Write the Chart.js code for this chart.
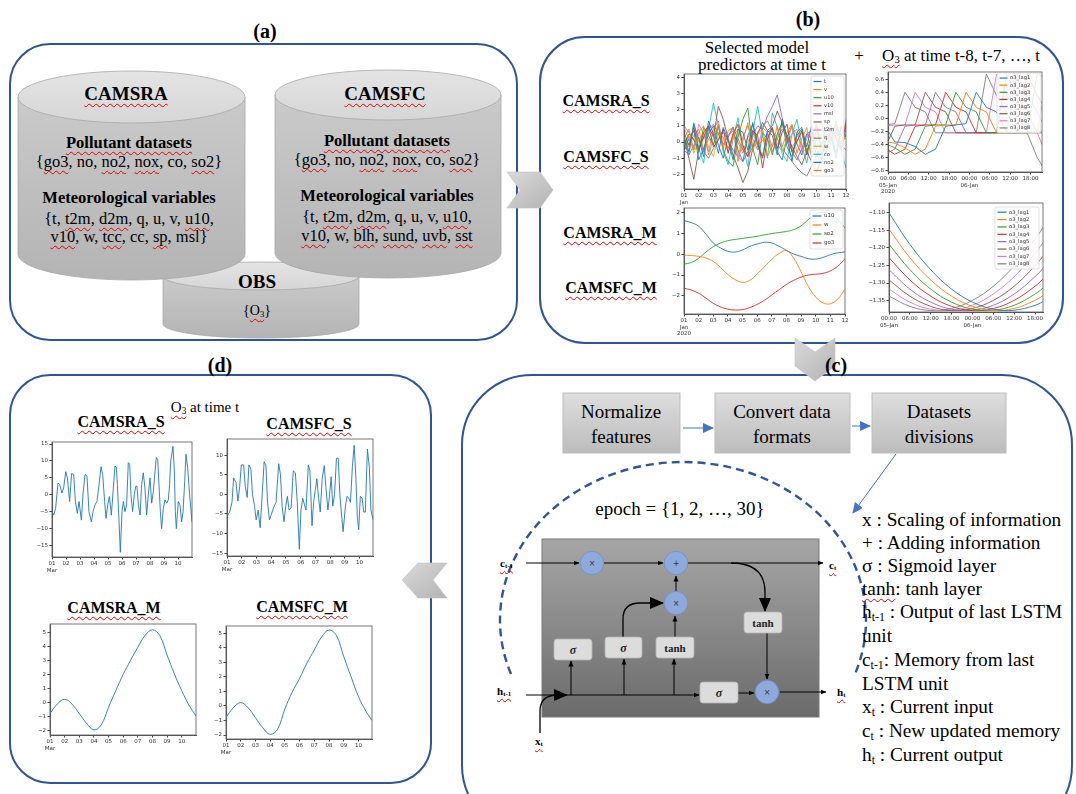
<!DOCTYPE html>
<html><head><meta charset="utf-8">
<script src="https://cdn.jsdelivr.net/npm/chart.js@4.4.1/dist/chart.umd.min.js"></script>
<style>
html,body{margin:0;padding:0;background:#fff;}
#root{position:relative;width:1076px;height:794px;overflow:hidden;font-family:'Liberation Serif','Times New Roman',serif;color:#000;}
.t{position:absolute;transform:translate(-50%,-50%);white-space:nowrap;line-height:1;}
.l{position:absolute;transform:translate(0,-50%);white-space:nowrap;line-height:1;}
.w{text-decoration:underline wavy #e00000;text-decoration-thickness:1px;text-underline-offset:3px;text-decoration-skip-ink:none;}
.b{font-weight:bold;}
sub{font-size:0.62em;vertical-align:-0.25em;line-height:0;}
.cw{position:absolute;}
svg{position:absolute;left:0;top:0;}
</style></head><body><div id="root">
<svg width="1076" height="794" viewBox="0 0 1076 794">
<defs>
 <linearGradient id="gBody" x1="0" y1="0" x2="0" y2="1"><stop offset="0" stop-color="#cacaca"/><stop offset="1" stop-color="#b4b4b4"/></linearGradient>
 <linearGradient id="gTop" x1="0" y1="0" x2="0" y2="1"><stop offset="0" stop-color="#e4e4e4"/><stop offset="1" stop-color="#d6d6d6"/></linearGradient>
 <linearGradient id="gL" x1="0" y1="0" x2="0" y2="1"><stop offset="0" stop-color="#a6a6a6"/><stop offset="1" stop-color="#6b6b6b"/></linearGradient>
 <linearGradient id="gBox" x1="0" y1="0" x2="0" y2="1"><stop offset="0" stop-color="#dedede"/><stop offset="1" stop-color="#bcbcbc"/></linearGradient>
 <linearGradient id="gChev" x1="0" y1="0" x2="1" y2="1"><stop offset="0" stop-color="#dadada"/><stop offset="1" stop-color="#b3b3b3"/></linearGradient>
 <marker id="mk" markerWidth="6" markerHeight="6" refX="5.5" refY="3" orient="auto" markerUnits="userSpaceOnUse"><path d="M0,0.5 L6,3 L0,5.5 z" fill="#000"/></marker>
 <marker id="mkL" markerWidth="14" markerHeight="12" refX="13" refY="6" orient="auto" markerUnits="userSpaceOnUse"><path d="M0,0 L14,6 L0,12 z" fill="#000"/></marker>
 <marker id="mkB" markerWidth="11" markerHeight="10" refX="10" refY="5" orient="auto" markerUnits="userSpaceOnUse"><path d="M0,0 L11,5 L0,10 z" fill="#4472C4"/></marker>
</defs>
<!-- panels -->
<rect x="10" y="44" width="507" height="296" rx="40" fill="#fff" stroke="#2F5597" stroke-width="2"/>
<rect x="540" y="37" width="523" height="306" rx="45" fill="#fff" stroke="#2F5597" stroke-width="2"/>
<rect x="10" y="375" width="421" height="408" rx="40" fill="#fff" stroke="#2F5597" stroke-width="2"/>
<rect x="462" y="375" width="610" height="460" rx="70" fill="#fff" stroke="#2F5597" stroke-width="2"/>
<!-- OBS cylinder -->
<path d="M163,276 L163,324 A98,14 0 0 0 359,324 L359,276 Z" fill="url(#gBody)" stroke="#a8a8a8" stroke-width="0.8"/>
<ellipse cx="261" cy="276" rx="98" ry="14" fill="url(#gTop)" stroke="#a8a8a8" stroke-width="0.8"/>
<!-- CAMSRA cylinder -->
<path d="M18,97 L18,254 A113.5,26 0 0 0 245,254 L245,97 Z" fill="url(#gBody)" stroke="#a8a8a8" stroke-width="0.8"/>
<ellipse cx="131.5" cy="97" rx="113.5" ry="26" fill="url(#gTop)" stroke="#a8a8a8" stroke-width="0.8"/>
<!-- CAMSFC cylinder -->
<path d="M275,95 L275,253 A113,25 0 0 0 501,253 L501,95 Z" fill="url(#gBody)" stroke="#a8a8a8" stroke-width="0.8"/>
<ellipse cx="388" cy="95" rx="113" ry="25" fill="url(#gTop)" stroke="#a8a8a8" stroke-width="0.8"/>
<!-- chevrons -->
<polygon points="507,172 540,172 553,190 540,208 507,208 520,190" fill="url(#gChev)" stroke="#c4c4c4" stroke-width="0.6"/>
<polygon points="795,338 815,352 835,338 835,366 815,381 795,366" fill="url(#gChev)" stroke="#c4c4c4" stroke-width="0.6"/>
<polygon points="447,563 418,563 402,580 418,598 447,598 433,580" fill="url(#gChev)" stroke="#c4c4c4" stroke-width="0.6"/>
<!-- flow boxes -->
<rect x="563" y="393" width="117" height="60" fill="url(#gBox)" stroke="#bdbdbd"/>
<rect x="715" y="393" width="135" height="60" fill="url(#gBox)" stroke="#bdbdbd"/>
<rect x="872" y="393" width="134" height="60" fill="url(#gBox)" stroke="#bdbdbd"/>
<line x1="683" y1="428" x2="713" y2="428" stroke="#4472C4" stroke-width="1" marker-end="url(#mkB)"/>
<line x1="852" y1="426" x2="870" y2="426" stroke="#4472C4" stroke-width="1" marker-end="url(#mkB)"/>
<line x1="896" y1="454" x2="853" y2="513" stroke="#4472C4" stroke-width="1" marker-end="url(#mkB)"/>
<!-- dashed epoch loop -->
<path d="M511,674 A183,158 0 1 1 855,674" fill="none" stroke="#2F5597" stroke-width="2.4" stroke-dasharray="8,5"/>
<!-- LSTM cell -->
<rect x="542" y="539" width="277" height="178" fill="url(#gL)" stroke="#7a7a7a"/>
<g stroke="#000" stroke-width="1" fill="none">
 <line x1="526" y1="563" x2="579" y2="563" marker-end="url(#mk)"/>
 <line x1="604" y1="563" x2="663" y2="563" marker-end="url(#mk)"/>
 <line x1="688" y1="563" x2="823" y2="563" marker-end="url(#mk)"/>
 <line x1="676" y1="591" x2="676" y2="576" marker-end="url(#mk)"/>
 <line x1="675" y1="637" x2="675" y2="616" marker-end="url(#mk)"/>
 <path d="M623,637 L623,619 Q623,603 640,603 L663,603" stroke-width="1.3" marker-end="url(#mkL)"/>
 <path d="M731,563 Q765,563 765,592 L765,611" stroke-width="1.3" marker-end="url(#mkL)"/>
 <line x1="767" y1="633" x2="767" y2="679" marker-end="url(#mk)"/>
 <line x1="560" y1="695" x2="699" y2="695" marker-end="url(#mk)"/>
 <line x1="738" y1="693" x2="754" y2="693" marker-end="url(#mk)"/>
 <line x1="780" y1="692" x2="826" y2="692" marker-end="url(#mk)"/>
 <line x1="571" y1="695" x2="571" y2="661" marker-end="url(#mk)"/>
 <line x1="624" y1="695" x2="624" y2="659" marker-end="url(#mk)"/>
 <line x1="674" y1="695" x2="674" y2="659" marker-end="url(#mk)"/>
 <line x1="526" y1="695" x2="560" y2="695"/>
 <path d="M540,733 L540,711 Q540,696 556,695 L567,695" stroke-width="1.3" marker-end="url(#mkL)"/>
</g>
<g fill="#dcdcdc" stroke="#b5b5b5" stroke-width="0.8">
 <rect x="554" y="639" width="38" height="21" rx="3"/>
 <rect x="605" y="637" width="37" height="21" rx="3"/>
 <rect x="656" y="637" width="38" height="21" rx="3"/>
 <rect x="744" y="612" width="38" height="21" rx="3"/>
 <rect x="700" y="682" width="38" height="21" rx="3"/>
</g>
<g fill="#8EA9DB" stroke="#6f8fce" stroke-width="0.8">
 <circle cx="592" cy="563" r="11.7"/>
 <circle cx="676" cy="563" r="11.7"/>
 <circle cx="676" cy="603" r="11.7"/>
 <circle cx="767" cy="692" r="11.7"/>
</g>
<g font-family="Liberation Serif" font-weight="bold" text-anchor="middle" fill="#222">
 <text x="573" y="653.5" font-size="12" font-style="italic">σ</text>
 <text x="623.5" y="651.5" font-size="12" font-style="italic">σ</text>
 <text x="675" y="651.5" font-size="11">tanh</text>
 <text x="763" y="626.5" font-size="11">tanh</text>
 <text x="719" y="696.5" font-size="12" font-style="italic">σ</text>
</g>
<g font-family="DejaVu Sans" font-size="8" text-anchor="middle" fill="#333">
 <text x="592" y="566">×</text>
 <text x="676" y="566">+</text>
 <text x="676" y="606">×</text>
 <text x="767" y="695">×</text>
</g>
</svg>

<!-- panel labels -->
<div class="t b" style="left:265px;top:31px;font-size:20px">(a)</div>
<div class="t b" style="left:808px;top:19px;font-size:20px">(b)</div>
<div class="t b" style="left:836px;top:365px;font-size:20px">(c)</div>
<div class="t b" style="left:220px;top:365px;font-size:20px">(d)</div>

<!-- panel a -->
<div class="t b" style="left:126px;top:93px;font-size:19px"><span class="w">CAMSRA</span></div>
<div class="t b" style="left:129px;top:143px;font-size:16.5px"><span class="w">Pollutant datasets</span></div>
<div class="t" style="left:129px;top:162px;font-size:16.5px">{<span class="w">go3</span>, no, <span class="w">no2</span>, <span class="w">nox</span>, co, <span class="w">so2</span>}</div>
<div class="t b" style="left:129px;top:198px;font-size:16.5px">Meteorological variables</div>
<div class="t" style="left:129px;top:219px;font-size:16.5px">{t, <span class="w">t2m</span>, <span class="w">d2m</span>, q, u, v, <span class="w">u10</span>,</div>
<div class="t" style="left:129px;top:237px;font-size:16.5px"><span class="w">v10</span>, w, <span class="w">tcc</span>, cc, <span class="w">sp</span>, msl}</div>
<div class="t b" style="left:385px;top:93px;font-size:19px"><span class="w">CAMSFC</span></div>
<div class="t b" style="left:387px;top:141px;font-size:16.5px"><span class="w">Pollutant datasets</span></div>
<div class="t" style="left:387px;top:160px;font-size:16.5px">{<span class="w">go3</span>, no, <span class="w">no2</span>, <span class="w">nox</span>, co, <span class="w">so2</span>}</div>
<div class="t b" style="left:387px;top:196px;font-size:16.5px">Meteorological variables</div>
<div class="t" style="left:387px;top:217px;font-size:16.5px">{t, <span class="w">t2m</span>, <span class="w">d2m</span>, q, u, v, <span class="w">u10</span>,</div>
<div class="t" style="left:387px;top:236px;font-size:16.5px"><span class="w">v10</span>, w, <span class="w">blh</span>, <span class="w">sund</span>, <span class="w">uvb</span>, <span class="w">sst</span></div>
<div class="t b" style="left:257px;top:281px;font-size:19px">OBS</div>
<div class="t" style="left:257px;top:311px;font-size:14px">{<span class="w">O<sub>3</sub></span>}</div>

<!-- panel b -->
<div class="t" style="left:757px;top:47px;font-size:17px">Selected model</div>
<div class="t" style="left:762px;top:64px;font-size:17px">predictors at time t</div>
<div class="t" style="left:859px;top:55px;font-size:17px">+</div>
<div class="t" style="left:961px;top:55px;font-size:17px"><span class="w">O<sub>3</sub></span> at time t-8, t-7, …, t</div>
<div class="t b" style="left:606px;top:101px;font-size:16px"><span class="w">CAMSRA_S</span></div>
<div class="t b" style="left:606px;top:157px;font-size:16px"><span class="w">CAMSFC_S</span></div>
<div class="t b" style="left:610px;top:233px;font-size:16px"><span class="w">CAMSRA_M</span></div>
<div class="t b" style="left:611px;top:288px;font-size:16px"><span class="w">CAMSFC_M</span></div>

<!-- panel c -->
<div class="t" style="left:621px;top:411px;font-size:19px">Normalize</div>
<div class="t" style="left:621px;top:436px;font-size:19px">features</div>
<div class="t" style="left:782px;top:411px;font-size:19px">Convert data</div>
<div class="t" style="left:782px;top:436px;font-size:19px">formats</div>
<div class="t" style="left:939px;top:411px;font-size:19px">Datasets</div>
<div class="t" style="left:939px;top:436px;font-size:19px">divisions</div>
<div class="t" style="left:680px;top:508px;font-size:19px">epoch = {1, 2, …, 30}</div>
<div class="l b" style="left:500px;top:563px;font-size:11px"><span class="w">c<sub>t-1</sub></span></div>
<div class="l b" style="left:497px;top:691px;font-size:11px"><span class="w">h<sub>t-1</sub></span></div>
<div class="l b" style="left:535px;top:741px;font-size:11px"><span class="w">x<sub>t</sub></span></div>
<div class="l b" style="left:829px;top:565px;font-size:11px"><span class="w">c<sub>t</sub></span></div>
<div class="l b" style="left:837px;top:692px;font-size:11px"><span class="w">h<sub>t</sub></span></div>
<div class="l" style="left:862px;top:520px;font-size:19.3px">x : Scaling of information</div>
<div class="l" style="left:862px;top:543px;font-size:19.3px">+ : Adding information</div>
<div class="l" style="left:862px;top:566px;font-size:19.3px">σ : Sigmoid layer</div>
<div class="l" style="left:862px;top:589px;font-size:19.3px"><span class="w">tanh</span>: tanh layer</div>
<div class="l" style="left:862px;top:612px;font-size:19.3px">h<sub>t-1</sub> : Output of last LSTM</div>
<div class="l" style="left:862px;top:636px;font-size:19.3px">unit</div>
<div class="l" style="left:862px;top:660px;font-size:19.3px">c<sub>t-1</sub>: Memory from last</div>
<div class="l" style="left:862px;top:684px;font-size:19.3px">LSTM unit</div>
<div class="l" style="left:862px;top:707px;font-size:19.3px">x<sub>t</sub> : Current input</div>
<div class="l" style="left:862px;top:731px;font-size:19.3px">c<sub>t</sub> : New updated memory</div>
<div class="l" style="left:862px;top:755px;font-size:19.3px">h<sub>t</sub> : Current output</div>

<!-- panel d -->
<div class="t" style="left:205px;top:407px;font-size:15px"><span class="w">O<sub>3</sub></span> at time t</div>
<div class="t b" style="left:121px;top:422px;font-size:16px"><span class="w">CAMSRA_S</span></div>
<div class="t b" style="left:309px;top:424px;font-size:16px"><span class="w">CAMSFC_S</span></div>
<div class="t b" style="left:114px;top:608px;font-size:16px"><span class="w">CAMSRA_M</span></div>
<div class="t b" style="left:302px;top:607px;font-size:16px"><span class="w">CAMSFC_M</span></div>
</div>

<script>
// ---------- DATA ----------
const tab10 = ['#1f77b4','#ff7f0e','#2ca02c','#d62728','#9467bd','#8c564b','#e377c2','#7f7f7f','#bcbd22','#17becf','#1f77b4','#ff7f0e'];

// (b) top-left: selected predictors, 3 samples per day, 01-12 Jan
const b1Names = ['t','v','u10','v10','msl','sp','t2m','q','w','co','no2','go3'];
const b1_t   = [0.4,-0.6,1.1,0.2,-0.9,1.3,0.5,-0.7,0.9,0.1,-1.1,0.8,0.6,-0.5,1.2,-0.1,-1.0,0.7,0.4,-0.8,1.4,0.2,-1.2,0.6,0.9,-0.3,1.0,-0.4,-1.1,0.5,0.3,-1.0,0.9,0.3];
const b1_v   = [0.2,0.8,-0.5,0.6,1.0,-0.8,0.3,1.1,-0.4,0.7,0.9,-1.2,0.1,1.2,-0.6,0.5,0.8,-0.9,-0.2,1.0,-0.3,0.6,1.1,-0.7,0.2,0.9,-1.0,0.4,1.3,-0.5,-0.1,0.7,-0.2,0.5];
const b1_u10 = [-0.3,0.5,0.2,-0.6,0.9,0.4,-0.2,1.0,-0.5,-1.2,-1.5,0.3,1.4,2.1,-0.4,-1.4,0.6,0.2,-0.8,0.5,1.2,-0.3,-0.9,0.4,0.8,-0.6,0.3,1.1,-0.2,-0.7,0.6,1.0,-0.4,0.8];
const b1_v10 = [0.6,-0.2,0.9,-0.5,0.3,1.0,-0.3,0.1,0.8,-0.7,0.5,1.1,-0.2,-0.9,0.7,0.4,-1.6,0.2,0.9,-0.4,0.6,1.1,-0.6,0.0,0.7,-0.8,0.5,0.9,-0.3,-0.6,1.0,0.2,-0.5,1.2];
const b1_msl = [-0.5,-0.8,-0.2,0.3,-0.6,-1.0,-0.4,0.2,0.6,0.1,-0.5,-0.9,-1.2,-0.6,0.4,1.0,0.8,1.6,2.2,2.9,1.5,0.3,-0.6,-1.1,-0.4,0.5,0.2,-0.8,-1.3,-0.6,0.3,0.8,-0.2,-0.5];
const b1_sp  = [0.2,-1.0,-2.3,-0.5,0.6,1.0,0.3,2.2,1.4,0.2,-0.8,-1.6,-2.5,-1.8,-0.4,0.5,1.2,0.7,1.0,1.9,1.2,0.4,-0.3,-0.9,-1.4,-0.6,-1.2,-1.9,-1.0,0.1,0.6,1.1,0.4,0.9];
const b1_t2m = [0.9,0.2,-0.4,1.1,0.5,-0.6,0.8,1.3,-0.2,0.4,0.7,-0.9,0.3,1.0,0.2,-0.5,0.9,0.6,-0.3,0.4,1.2,-0.1,0.5,0.8,-0.6,0.2,0.9,0.1,-0.7,0.6,1.0,0.3,-0.2,1.1];
const b1_q   = [1.0,0.6,0.1,-0.4,0.3,0.8,1.1,0.5,-0.2,0.4,0.9,0.2,-0.5,-0.9,-0.3,0.6,1.0,1.3,0.7,0.2,-0.4,-0.8,-1.2,-1.6,-1.9,-2.1,-1.5,-0.8,-0.2,0.4,0.1,-0.6,-0.3,0.5];
const b1_w   = [-0.2,0.4,-0.7,0.1,0.6,-0.3,-0.9,0.5,0.2,-0.6,0.3,0.8,-0.4,0.0,0.6,-0.2,-0.8,0.4,0.7,-0.1,-0.6,0.2,0.9,0.5,-0.3,-0.7,0.3,0.6,-0.5,0.1,0.8,-0.3,0.4,0.2];
const b1_co  = [0.3,-0.8,1.2,-0.4,-1.3,0.8,2.4,1.0,-0.6,-1.4,0.2,1.5,-0.3,-1.5,0.6,2.2,0.4,-1.0,1.8,0.9,-0.7,-1.2,0.5,1.4,-0.2,-1.3,0.3,1.0,-0.6,-1.4,0.2,1.3,-0.5,-1.6];
const b1_no2 = [-0.6,0.2,0.7,-1.1,-0.4,0.5,1.0,-0.2,-1.0,0.3,0.9,-0.5,-1.2,0.4,1.1,-0.3,-0.9,0.6,0.8,-0.6,-1.1,0.3,1.0,-0.1,-0.8,0.5,0.7,-0.9,-0.2,0.9,0.4,-0.7,1.0,0.6];
const b1_go3 = [0.1,-0.3,0.4,0.8,-0.5,0.2,-0.1,0.6,0.3,-0.4,0.5,0.0,-0.7,0.3,0.7,-0.2,0.1,0.5,-0.6,0.2,0.8,0.4,-0.3,0.1,0.6,-0.5,-0.1,0.7,0.3,-0.4,0.2,0.9,-0.2,1.4];
const b1Series = [b1_t,b1_v,b1_u10,b1_v10,b1_msl,b1_sp,b1_t2m,b1_q,b1_w,b1_co,b1_no2,b1_go3];
const b1Days = b1_t.map((_, i) => i / 3);

// (b) top-right: O3 lags, every 3 h from 05-Jan
const lagNames = ['o3_lag1','o3_lag2','o3_lag3','o3_lag4','o3_lag5','o3_lag6','o3_lag7','o3_lag8'];
const b2Hours = [-1,2,5,8,11,14,17,20,23,26,29,32,35,38,41,44,47];
const b2_lag1 = [-0.1,-0.36,-0.37,-0.43,-0.55,-0.47,-0.12,-0.1,-0.08,0.4,0.17,0.1,-0.22,-0.22,-0.22,-0.2,-0.18];
const b2_lag2 = [-0.35,-0.38,-0.45,-0.55,-0.47,-0.12,-0.1,-0.1,0.4,0.17,0.1,-0.22,-0.22,-0.22,-0.22,-0.22,0.68];
const b2_lag3 = [-0.38,-0.45,-0.55,-0.47,-0.12,-0.1,-0.1,0.4,0.17,0.1,-0.22,-0.22,-0.22,-0.22,-0.22,0.68,0.6];
const b2_lag4 = [-0.45,-0.55,-0.47,-0.12,-0.1,-0.1,0.4,0.17,0.1,-0.22,-0.22,-0.22,-0.22,-0.22,0.68,0.35,0.1];
const b2_lag5 = [-0.55,-0.47,-0.12,-0.1,-0.1,0.4,0.17,0.1,-0.22,-0.22,-0.22,-0.22,-0.22,0.68,0.35,0.1,-0.22];
const b2_lag6 = [-0.47,-0.12,-0.1,-0.1,0.4,0.17,0.1,-0.22,-0.22,-0.22,-0.22,-0.22,0.68,0.35,0.1,-0.22,-0.22];
const b2_lag7 = [-0.12,-0.1,-0.1,0.4,0.17,0.1,-0.22,-0.22,-0.22,-0.22,-0.22,0.68,0.35,0.1,-0.22,-0.22,-0.6];
const b2_lag8 = [-0.1,-0.08,0.4,0.17,0.1,-0.22,-0.22,-0.22,-0.22,-0.22,0.68,0.35,0.1,-0.22,-0.22,-0.6,-0.85];
const b2Series = [b2_lag1,b2_lag2,b2_lag3,b2_lag4,b2_lag5,b2_lag6,b2_lag7,b2_lag8];

// (b) bottom-left: smooth predictors, every half day
const b3Names = ['u10','w','so2','go3'];
const b3Days = [0,0.5,1,1.5,2,2.5,3,3.5,4,4.5,5,5.5,6,6.5,7,7.5,8,8.5,9,9.5,10,10.5,11];
const b3_u10 = [1.6,1.5,1.33,0.95,0.53,0.29,0.13,0.1,0.2,0.37,0.48,0.56,0.53,0.37,0.18,0.0,-0.11,-0.22,-0.24,-0.16,-0.03,0.06,0.1];
const b3_w   = [-0.05,-0.07,-0.11,-0.19,-0.35,-0.64,-0.98,-1.22,-1.35,-1.25,-0.95,-0.6,-0.25,0.03,0.16,-0.2,-0.85,-1.55,-2.05,-2.33,-2.37,-2.15,-1.68];
const b3_so2 = [-0.48,-0.4,-0.2,0.1,0.35,0.53,0.64,0.7,0.75,0.8,0.85,0.92,0.98,1.03,1.08,1.17,1.35,1.65,1.92,1.98,1.9,1.65,1.25];
const b3_go3 = [-1.63,-1.72,-1.87,-2.1,-2.35,-2.52,-2.63,-2.67,-2.65,-2.55,-2.4,-2.2,-1.95,-1.7,-1.45,-1.25,-1.1,-1.0,-0.96,-0.92,-0.8,-0.58,-0.22];
const b3Series = [b3_u10,b3_w,b3_so2,b3_go3];

// (b) bottom-right: smooth O3 lags, every 6 h
const b4Hours = [0,6,12,18,24,30,36,42,45];
const b4_lag1 = [-1.101,-1.190,-1.262,-1.317,-1.354,-1.374,-1.377,-1.363,-1.349];
const b4_lag2 = [-1.147,-1.228,-1.291,-1.337,-1.366,-1.378,-1.372,-1.349,-1.331];
const b4_lag3 = [-1.190,-1.262,-1.317,-1.354,-1.374,-1.377,-1.363,-1.331,-1.309];
const b4_lag4 = [-1.228,-1.291,-1.337,-1.366,-1.378,-1.372,-1.349,-1.309,-1.282];
const b4_lag5 = [-1.262,-1.317,-1.354,-1.374,-1.377,-1.363,-1.331,-1.282,-1.251];
const b4_lag6 = [-1.291,-1.337,-1.366,-1.378,-1.372,-1.349,-1.309,-1.251,-1.216];
const b4_lag7 = [-1.317,-1.354,-1.374,-1.377,-1.363,-1.331,-1.282,-1.216,-1.176];
const b4_lag8 = [-1.337,-1.366,-1.378,-1.372,-1.349,-1.309,-1.251,-1.176,-1.132];
const b4Series = [b4_lag1,b4_lag2,b4_lag3,b4_lag4,b4_lag5,b4_lag6,b4_lag7,b4_lag8];

// (d) O3 at time t
const d1Days = [0,0.12,0.26,0.43,0.55,0.71,0.83,0.98,1.10,1.26,1.40,1.55,1.67,1.81,1.93,2.10,2.21,2.36,2.50,2.64,2.81,2.93,3.07,3.21,3.36,3.50,3.62,3.76,3.86,3.98,4.10,4.24,4.38,4.50,4.60,4.67,4.79,4.88,5.00,5.10,5.21,5.33,5.45,5.55,5.64,5.76,5.88,5.98,6.07,6.17,6.29,6.40,6.52,6.64,6.76,6.88,7.00,7.12,7.24,7.36,7.45,7.55,7.64,7.74,7.83,7.95,8.07,8.19,8.31,8.40,8.48,8.64,8.74,8.81,8.88,9.02,9.14,9.26,9.36,9.48,9.57,9.69,9.83,10.0];
const d1Vals = [-5,-6,-4,3.5,3,0.5,2,6.8,5,-2,6.3,6,-2,-5.5,-2,-7.5,0,6,5.5,-5,-8,-5,-3,-2,3,8.3,6,-2,-7,-3,-0.5,-6,2,8.5,8,3,-8,-17,-5,-2,-5,-3,9.5,9,0,-5,0,2.5,2.5,-3,-6,3,6.5,2,-6,0,5,-2.5,1,7,11,10.5,3,-5,-10,-4,-1.5,-2.5,-1.5,3,10,14.3,7,-5,-10,-2,-3,-8,-5,4,12,8,0,-8];
const d2Days = [0,0.18,0.34,0.45,0.61,0.74,0.86,0.97,1.13,1.24,1.37,1.49,1.62,1.73,1.87,1.98,2.12,2.25,2.39,2.52,2.64,2.75,2.88,3.02,3.15,3.33,3.51,3.63,3.74,3.87,3.99,4.10,4.21,4.35,4.50,4.64,4.77,4.91,5.02,5.14,5.25,5.36,5.52,5.63,5.77,5.88,5.99,6.10,6.22,6.33,6.46,6.60,6.71,6.85,6.94,7.07,7.18,7.30,7.43,7.55,7.66,7.77,7.88,8.04,8.15,8.27,8.38,8.51,8.63,8.74,8.85,8.94,9.05,9.17,9.28,9.39,9.53,9.66,9.77,9.91];
const d2Vals = [-5.5,-4.5,-2,4.2,3,-1.7,2,7.5,7.5,2,-0.8,7.5,6.5,0,-3,-6.5,-4,-8.5,0,8.3,7.5,-2,-6.5,-5,-3.5,-2,7.8,5,-3,-7,-3,-0.5,-4,-3.5,6,5.5,-2,-14,-4,-1,-2.5,-4,7.5,6,-8,-2,1,4,-1,-4.5,4,7.3,2,-4,-1,4.5,-3,0,9.2,9.2,0,-5,-9.5,-3,-0.5,-1,-2,7,12.5,5,-6,-9,-0.5,-1,-4.5,-4.5,11.5,7,-4,-6.5];
const d3Days = [0,0.5,1,1.5,2,2.5,3,3.5,4,4.5,5,5.5,6,6.5,7,7.5,8,8.5,9,9.5,10];
const d3Vals = [-0.8,-0.12,0.22,-0.12,-0.8,-1.5,-1.97,-1.62,-0.35,0.85,2.0,3.0,3.95,4.8,5.2,4.8,3.4,2.05,0.85,-0.2,-1.0];
const d4Days = [0,0.5,1,1.5,2,2.5,3,3.5,4,4.5,5,5.5,6,6.5,7,7.5,8,8.5,9,9.5,9.92];
const d4Vals = [-0.78,-0.12,0.23,-0.12,-0.8,-1.5,-1.95,-1.6,-0.2,0.95,1.9,2.95,3.85,4.75,5.22,4.85,3.4,2.0,0.65,-0.35,-1.0];

// tick labels
const janTicks = [0,1,2,3,4,5,6,7,8,9,10,11];
const janLabels1 = [['01','Jan'],'02','03','04','05','06','07','08','09','10','11','12'];
const janLabels2 = [['01','Jan','2020'],'02','03','04','05','06','07','08','09','10','11','12'];
const hourTicks = [0,6,12,18,24,30,36,42];
const hourLabels2 = [['00:00','05-Jan','2020'],'06:00','12:00','18:00',['00:00','06-Jan'],'06:00','12:00','18:00'];
const hourLabels4 = [['00:00','05-Jan'],'06:00','12:00','18:00',['00:00','06-Jan'],'06:00','12:00','18:00'];
const marTicks = [0,1,2,3,4,5,6,7,8,9];
const marLabels = [['01','Mar'],'02','03','04','05','06','07','08','09','10'];

// ---------- CHART HELPERS ----------
const minus = v => String(v).replace('-', '\u2212');
Chart.register({
  id: 'frame',
  afterDatasetsDraw(chart) {
    const a = chart.chartArea, ctx = chart.ctx;
    ctx.save(); ctx.strokeStyle = '#555'; ctx.lineWidth = 0.8;
    ctx.strokeRect(a.left, a.top, a.right - a.left, a.bottom - a.top);
    ctx.restore();
  }
});
Chart.register({
  id: 'innerLegend',
  afterDraw(chart, args, o) {
    if (!o || !o.show) return;
    const a = chart.chartArea, ctx = chart.ctx, ds = chart.data.datasets;
    const x = a.right - o.w - o.m, y = a.top + o.m;
    ctx.save();
    ctx.fillStyle = 'rgba(255,255,255,0.85)'; ctx.strokeStyle = '#cfcfcf'; ctx.lineWidth = 0.6;
    ctx.beginPath(); ctx.roundRect(x, y, o.w, o.h, 2); ctx.fill(); ctx.stroke();
    const step = (o.h - 3) / ds.length;
    ctx.font = o.fs + 'px "DejaVu Sans"'; ctx.textBaseline = 'middle';
    ds.forEach((d, i) => {
      const yy = y + 1.5 + step * (i + 0.5);
      ctx.strokeStyle = d.borderColor; ctx.lineWidth = 1.2;
      ctx.beginPath(); ctx.moveTo(x + 2.5, yy); ctx.lineTo(x + 2.5 + o.ll, yy); ctx.stroke();
      ctx.fillStyle = '#333'; ctx.fillText(d.label, x + 5 + o.ll, yy);
    });
    ctx.restore();
  }
});

function makeChart(p, series, names, xs, xsVals, ys, legend, smooth) {
  const padT = 6, padR = 12;
  const div = document.createElement('div');
  div.className = 'cw';
  div.style.left = (p.l - p.yW) + 'px';
  div.style.top = (p.t - padT) + 'px';
  div.style.width = (p.yW + p.w + padR) + 'px';
  div.style.height = (padT + p.h + p.xH) + 'px';
  const cv = document.createElement('canvas');
  div.appendChild(cv);
  document.getElementById('root').appendChild(div);
  const tickFont = { family: 'DejaVu Sans', size: 5.5 };
  new Chart(cv, {
    type: 'line',
    data: {
      datasets: series.map((s, k) => ({
        label: names ? names[k] : 'O3',
        data: s.map((v, i) => ({ x: xsVals[i], y: v })),
        borderColor: names ? tab10[k] : '#1f77b4',
        borderWidth: 0.9, pointRadius: 0, fill: false,
        tension: smooth ? 0.4 : 0
      }))
    },
    options: {
      animation: false, responsive: true, maintainAspectRatio: false, events: [],
      layout: { padding: { top: padT, right: padR, left: 0, bottom: 0 } },
      plugins: { legend: { display: false }, tooltip: { enabled: false },
        innerLegend: legend ? Object.assign({ show: true }, legend) : { show: false } },
      scales: {
        x: {
          type: 'linear', min: xs.min, max: xs.max,
          afterBuildTicks: s => { s.ticks = xs.ticks.map(v => ({ value: v })); },
          afterFit: s => { s.height = p.xH; },
          grid: { drawOnChartArea: false, drawTicks: true, tickLength: 2.5, color: '#444' },
          border: { display: true, color: '#555' },
          ticks: { font: tickFont, color: '#333', padding: 1, maxRotation: 0, autoSkip: false,
            callback: (v, i) => xs.labels[i] }
        },
        y: {
          type: 'linear', min: ys.min, max: ys.max,
          afterBuildTicks: s => { s.ticks = ys.ticks.map(v => ({ value: v })); },
          afterFit: s => { s.width = p.yW; },
          grid: { drawOnChartArea: false, drawTicks: true, tickLength: 2.5, color: '#444' },
          border: { display: true, color: '#555' },
          ticks: { font: tickFont, color: '#333', padding: 1.5, autoSkip: false,
            callback: v => minus(ys.fmt(v)) }
        }
      }
    }
  });
}

// (b) charts
makeChart({ l: 684, t: 74, w: 162, h: 115, yW: 14, xH: 20 }, b1Series, b1Names,
  { min: 0, max: 11, ticks: janTicks, labels: janLabels1 }, b1Days,
  { min: -2.9, max: 4.2, ticks: [-2,-1,0,1,2,3,4], fmt: v => v.toFixed(0) },
  { w: 33, h: 100, m: 2, fs: 5.2, ll: 8 }, false);
makeChart({ l: 888, t: 72, w: 154, h: 100, yW: 24, xH: 26 }, b2Series, lagNames,
  { min: 0, max: 45.4, ticks: hourTicks, labels: hourLabels2 }, b2Hours,
  { min: -0.82, max: 0.71, ticks: [-0.8,-0.6,-0.4,-0.2,0,0.2,0.4,0.6], fmt: v => v.toFixed(1) },
  { w: 44, h: 60, m: 1, fs: 5.2, ll: 8 }, false);
makeChart({ l: 684, t: 208, w: 161, h: 106, yW: 14, xH: 26 }, b3Series, b3Names,
  { min: 0, max: 11, ticks: janTicks, labels: janLabels2 }, b3Days,
  { min: -2.86, max: 2.2, ticks: [-2,-1,0,1,2], fmt: v => v.toFixed(0) },
  { w: 33, h: 39, m: 2, fs: 5.5, ll: 9 }, true);
makeChart({ l: 889, t: 203, w: 154, h: 109, yW: 26, xH: 20 }, b4Series, lagNames,
  { min: 0, max: 44.3, ticks: hourTicks, labels: hourLabels4 }, b4Hours,
  { min: -1.382, max: -1.073, ticks: [-1.35,-1.30,-1.25,-1.20,-1.15,-1.10], fmt: v => v.toFixed(2) },
  { w: 44, h: 62, m: 4, fs: 5.2, ll: 9 }, true);

// (d) charts
makeChart({ l: 52, t: 442, w: 140, h: 115, yW: 16, xH: 20 }, [d1Vals], null,
  { min: 0, max: 10, ticks: marTicks, labels: marLabels }, d1Days,
  { min: -18.4, max: 15.6, ticks: [-15,-10,-5,0,5,10,15], fmt: v => v.toFixed(0) }, null, false);
makeChart({ l: 227, t: 439, w: 146, h: 117, yW: 16, xH: 20 }, [d2Vals], null,
  { min: 0, max: 9.91, ticks: marTicks, labels: marLabels }, d2Days,
  { min: -15.7, max: 14.1, ticks: [-15,-10,-5,0,5,10], fmt: v => v.toFixed(0) }, null, false);
makeChart({ l: 50, t: 624, w: 146, h: 111, yW: 14, xH: 20 }, [d3Vals], null,
  { min: 0, max: 9.98, ticks: marTicks, labels: marLabels }, d3Days,
  { min: -2.34, max: 5.62, ticks: [-2,-1,0,1,2,3,4,5], fmt: v => v.toFixed(0) }, null, true);
makeChart({ l: 226, t: 626, w: 146, h: 113, yW: 14, xH: 20 }, [d4Vals], null,
  { min: 0, max: 9.92, ticks: marTicks, labels: marLabels }, d4Days,
  { min: -2.27, max: 5.5, ticks: [-2,-1,0,1,2,3,4,5], fmt: v => v.toFixed(0) }, null, true);
</script>
</body></html>
